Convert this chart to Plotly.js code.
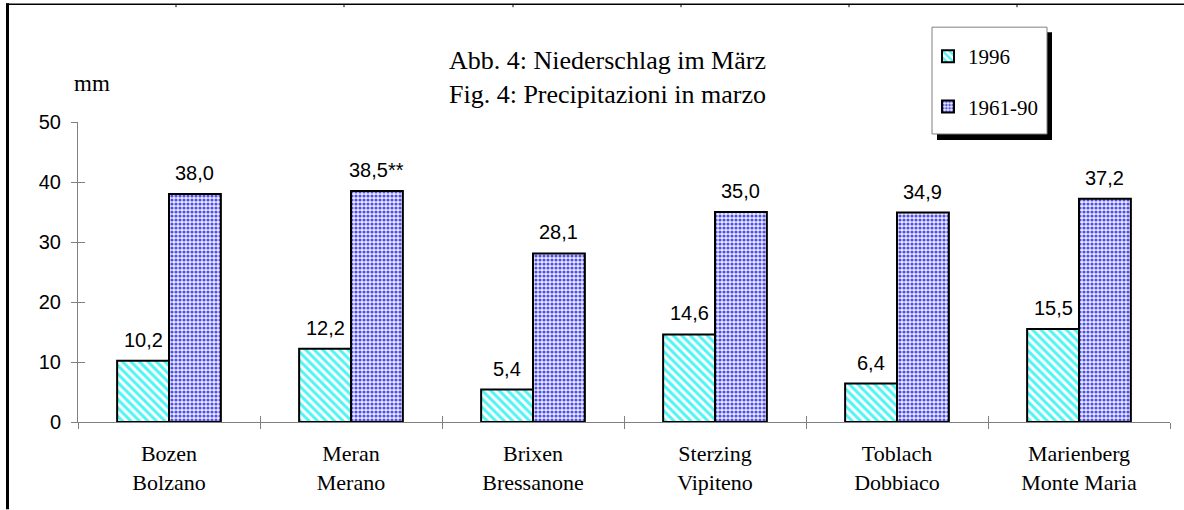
<!DOCTYPE html>
<html>
<head>
<meta charset="utf-8">
<script src="https://cdn.plot.ly/plotly-3.0.1.min.js"></script>
<style>html,body{margin:0;padding:0;background:#fff;}#chart{width:1184px;height:510px;}</style>
</head>
<body>
<div id="chart"></div>
<script>
var categories = ["Bozen<br>Bolzano", "Meran<br>Merano", "Brixen<br>Bressanone", "Sterzing<br>Vipiteno", "Toblach<br>Dobbiaco", "Marienberg<br>Monte Maria"];
var series1996 = [10.2, 12.2, 5.4, 14.6, 6.4, 15.5];
var series6190 = [38.0, 38.5, 28.1, 35.0, 34.9, 37.2];
var labels1996 = ["10,2", "12,2", "5,4", "14,6", "6,4", "15,5"];
var labels6190 = ["38,0", "38,5**", "28,1", "35,0", "34,9", "37,2"];
var yTicks = [0, 10, 20, 30, 40, 50];

var W = 1184, H = 510;
var mL = 78, mR = 14, mT = 122, mB = 87.5;
var pw = W - mL - mR, ph = H - mT - mB;
var bargap = 0.43;
var barOffset = (pw / categories.length) * (1 - bargap) / 4;
function px(x) { return (x - mL) / pw; }
function py(y) { return (H - mB - y) / ph; }

var serif = "Liberation Serif, Times New Roman, serif";
var sans = "Liberation Sans, Arial, sans-serif";

var traces = [
  {
    type: "bar", name: "1996", x: categories, y: series1996,
    legendgroup: "a",
    marker: { color: "#ffffff", line: { color: "#000000", width: 2 },
      pattern: { shape: "\\", fgcolor: "#4ff5f5", bgcolor: "#ffffff", size: 6, solidity: 0.5 } },
    hoverinfo: "skip"
  },
  {
    type: "bar", name: "1961-90", x: categories, y: series6190,
    legendgroup: "b",
    marker: { color: "#e6e6fa", line: { color: "#000000", width: 2 },
      pattern: { shape: ".", fgcolor: "#5050e6", bgcolor: "#ececfb", size: 4, solidity: 0.5 } },
    hoverinfo: "skip"
  },
  {
    type: "scatter", mode: "markers", x: categories, y: categories.map(function(){return null;}),
    xaxis: "x2", yaxis: "y2", showlegend: false, hoverinfo: "skip"
  }
];

var annotations = [];
for (var i = 0; i < categories.length; i++) {
  annotations.push({ x: categories[i], y: series1996[i], xref: "x", yref: "y", text: labels1996[i],
    showarrow: false, xshift: -barOffset, yshift: 8, yanchor: "bottom",
    font: { family: sans, size: 20, color: "#000" } });
  annotations.push({ x: categories[i], y: series6190[i], xref: "x", yref: "y", text: labels6190[i],
    showarrow: false, xshift: barOffset, yshift: 8, yanchor: "bottom",
    font: { family: sans, size: 20, color: "#000" } });
}
annotations.push({ xref: "paper", yref: "paper", x: px(607), y: py(77), xanchor: "center", yanchor: "middle",
  text: "Abb. 4: Niederschlag im März<br>Fig. 4: Precipitazioni in marzo", showarrow: false,
  font: { family: serif, size: 26, color: "#000" } });
annotations.push({ xref: "paper", yref: "paper", x: px(92), y: py(83), xanchor: "center", yanchor: "middle",
  text: "mm", showarrow: false, font: { family: serif, size: 23, color: "#000" } });

var shapes = [
  // legend shadow and box
  { type: "rect", xref: "paper", yref: "paper", x0: px(937), x1: px(1052), y0: py(32), y1: py(140),
    fillcolor: "#000", line: { width: 0 }, layer: "above" },
  { type: "rect", xref: "paper", yref: "paper", x0: px(932), x1: px(1047), y0: py(27), y1: py(134),
    fillcolor: "#fff", line: { color: "#808080", width: 1 }, layer: "above" },
  // page frame
  { type: "line", xref: "paper", yref: "paper", x0: px(7.5), x1: px(7.5), y0: py(3), y1: py(510),
    line: { color: "#000", width: 3 } },
  { type: "line", xref: "paper", yref: "paper", x0: px(6), x1: px(1184), y0: py(4), y1: py(4),
    line: { color: "#000", width: 1.5 } }
];
[176, 344, 513, 681, 849, 1017].forEach(function (t) {
  shapes.push({ type: "line", xref: "paper", yref: "paper", x0: px(t), x1: px(t), y0: py(4), y1: py(7),
    line: { color: "#000", width: 1 } });
});

var layout = {
  width: W, height: H,
  margin: { l: mL, r: mR, t: mT, b: mB, pad: 0 },
  paper_bgcolor: "#fff", plot_bgcolor: "#fff",
  barmode: "group", bargap: bargap, bargroupgap: 0,
  showlegend: true,
  legend: { x: px(928), y: py(36), xanchor: "left", yanchor: "top", bgcolor: "rgba(0,0,0,0)",
    borderwidth: 0, traceorder: "grouped", tracegroupgap: 20, itemwidth: 30,
    font: { family: serif, size: 21, color: "#000" } },
  xaxis: { type: "category", showline: true, linecolor: "#808080", linewidth: 1,
    ticks: "outside", ticklen: 6, tickcolor: "#808080", tickson: "boundaries",
    showgrid: false, zeroline: false, fixedrange: true, ticklabelstandoff: 12,
    tickfont: { family: serif, size: 22, color: "#000" } },
  xaxis2: { type: "category", overlaying: "x", anchor: "y", range: [-0.5, 5.5], ticks: "inside", ticklen: 6,
    tickcolor: "#808080", tickson: "boundaries", showticklabels: false, showline: false, showgrid: false, zeroline: false },
  yaxis: { range: [0, 50], tickvals: yTicks, ticktext: yTicks.map(String), showline: true, linecolor: "#808080",
    linewidth: 1, ticks: "outside", ticklen: 6, tickcolor: "#808080", showgrid: false, zeroline: false,
    ticklabelstandoff: 6, tickfont: { family: sans, size: 20, color: "#000" } },
  yaxis2: { range: [0, 50], overlaying: "y", anchor: "x", side: "left", tickvals: yTicks, ticks: "inside",
    ticklen: 7, tickcolor: "#808080", showticklabels: false, showline: false, showgrid: false, zeroline: false },
  annotations: annotations,
  shapes: shapes
};

Plotly.newPlot("chart", traces, layout, { displayModeBar: false, staticPlot: true });
</script>
</body>
</html>
